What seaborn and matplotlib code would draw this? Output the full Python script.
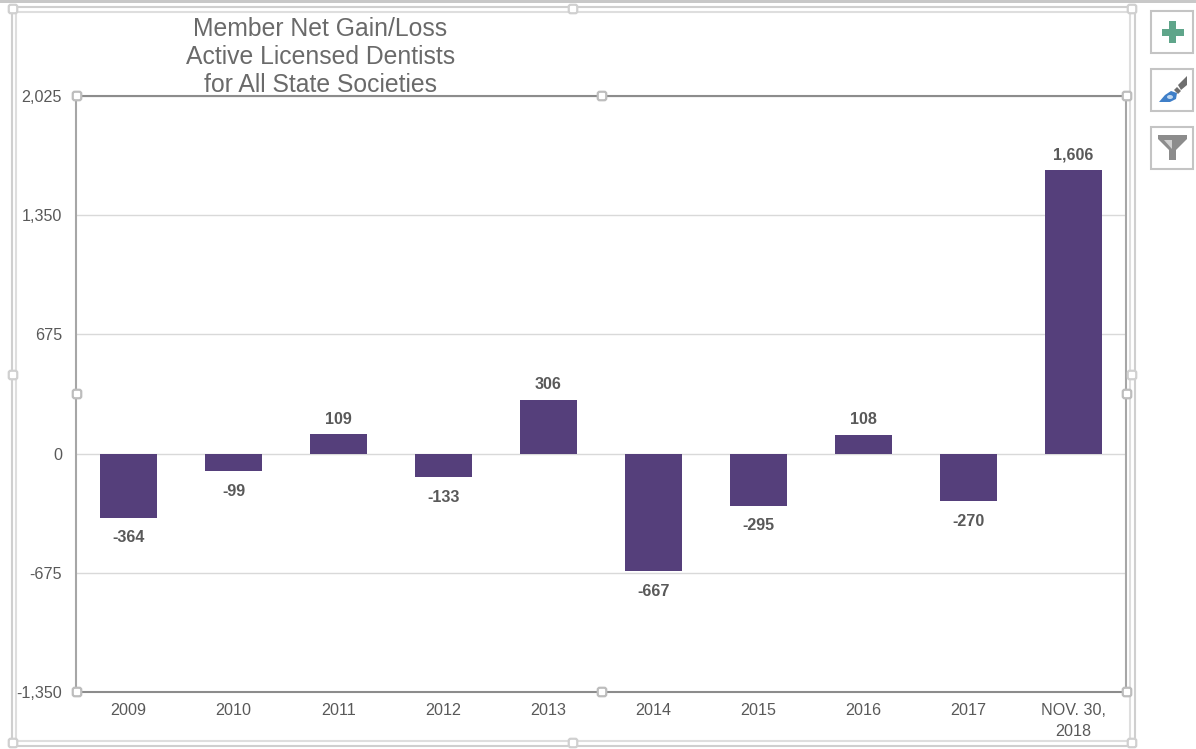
import pandas as pd
import seaborn as sns
import matplotlib.pyplot as plt
from matplotlib.patches import Rectangle, Polygon, Ellipse, FancyBboxPatch

# Chart data
years = ["2009", "2010", "2011", "2012", "2013", "2014", "2015", "2016", "2017", "NOV. 30,\n2018"]
net_change = [-364, -99, 109, -133, 306, -667, -295, 108, -270, 1606]
y_ticks = [-1350, -675, 0, 675, 1350, 2025]
title_lines = ["Member Net Gain/Loss", "Active Licensed Dentists", "for All State Societies"]

df = pd.DataFrame({"year": years, "net": net_change})

W, H = 1196, 749
BAR = "#553F7B"
TXT = "#595959"

sns.set_theme(style="white")
plt.rcParams["font.family"] = ["Liberation Sans", "DejaVu Sans"]

fig = plt.figure(figsize=(W / 100, H / 100), dpi=100, facecolor="white")

# plot area, placed from pixel edges
ax = fig.add_axes([76 / W, 1 - 692 / H, (1126 - 76) / W, (692 - 96) / H])
sns.barplot(data=df, x="year", y="net", color=BAR, saturation=1, width=0.545, ax=ax, zorder=3,
            linewidth=0)

ax.set_xlim(-0.5, len(years) - 0.5)
ax.set_ylim(y_ticks[0], y_ticks[-1])
ax.set_yticks(y_ticks)
ax.set_yticklabels([f"{v:,}" for v in y_ticks], fontsize=11.6, color=TXT)
ax.set_xlabel("")
ax.set_ylabel("")
ax.tick_params(axis="x", labelsize=11.6, labelcolor=TXT, length=0, pad=8)
ax.tick_params(axis="y", length=0, pad=10)
for lab in ax.get_xticklabels():
    lab.set_linespacing(1.45)
ax.yaxis.grid(True, color="#D9D9D9", lw=1)
ax.set_axisbelow(True)
ax.set_facecolor("white")
for side in ax.spines:
    ax.spines[side].set_color("#A6A6A6")
    ax.spines[side].set_linewidth(1.5)
ax.spines["top"].set_color("#8C8C8C")
ax.spines["bottom"].set_color("#8C8C8C")

# labels above and below the bars need a slightly different gap
bars = ax.containers[0]
pos_labels = [f"{v:,}" if v > 0 else "" for v in net_change]
neg_labels = [f"{v:,}" if v < 0 else "" for v in net_change]
ax.bar_label(bars, labels=pos_labels, padding=5.5, fontsize=11.6, fontweight="bold", color=TXT)
ax.bar_label(bars, labels=neg_labels, padding=9, fontsize=11.6, fontweight="bold", color=TXT)

# title sits over the chart, three separate lines
for line, py in zip(title_lines, [26, 54.5, 82.5]):
    fig.text(320.5 / W, 1 - py / H, line, ha="center", va="center_baseline", fontsize=17.8, color="#6A6A6A")

# Overlay in pixel coordinates for the selection frame and side buttons
ov = fig.add_axes([0, 0, 1, 1], zorder=5)
ov.set_xlim(0, W)
ov.set_ylim(H, 0)
ov.axis("off")
ov.patch.set_alpha(0)


def box(x0, y0, x1, y1, ec="#D4D4D4", lw=1.5, fc="none", z=2):
    ov.add_patch(Rectangle((x0, y0), x1 - x0, y1 - y0, fc=fc, ec=ec, lw=lw, zorder=z))


def handle(x, y, size=8, ec="#C8C8C8"):
    ov.add_patch(FancyBboxPatch((x - size / 2, y - size / 2), size, size, boxstyle="round,pad=0,rounding_size=2",
                                fc="white", ec=ec, lw=1.6, zorder=4))


# window shadow along the top
ov.add_patch(Rectangle((0, 0), W, 2.5, fc="#C8C8C8", ec="none"))

# double frame
box(11.5, 6.5, 1135, 745.5, ec="#CFCFCF")
box(16, 12, 1129.5, 740.5, ec="#DEDEDE")
for hx, hy in [(13, 9), (573, 9), (1132, 9), (13, 375), (1132, 375), (13, 743), (573, 743), (1132, 743)]:
    handle(hx, hy, size=8.5, ec="#D0D0D0")
for hx, hy in [(77, 96), (602, 96), (1127, 96), (77, 394), (1127, 394), (77, 692), (602, 692), (1127, 692)]:
    handle(hx, hy, size=8.5, ec="#BDBDBD")

# side buttons
for top in [10.5, 68.5, 127]:
    box(1151, top, 1193, top + 42, ec="#C4C4C4", lw=1.5, fc="white")

# plus button
ov.add_patch(Rectangle((1161.5, 28.5), 22, 7, fc="#5FA58A", ec="none", zorder=5))
ov.add_patch(Rectangle((1169, 21), 7, 22, fc="#5FA58A", ec="none", zorder=5))

# brush button
ov.add_patch(Polygon([(1159, 102), (1165, 95), (1171, 91), (1177, 93), (1176, 99), (1170, 102)],
                     fc="#3F7FC8", ec="none", zorder=5))
ov.add_patch(Ellipse((1170, 97), 6, 4, fc="#BFD7F0", ec="none", zorder=6))
ov.add_patch(Polygon([(1174, 90), (1177, 87), (1181, 91), (1178, 94)], fc="#6E6E6E", ec="none", zorder=5))
ov.add_patch(Polygon([(1178, 85), (1187, 76), (1187, 85), (1181, 90)], fc="#6E6E6E", ec="none", zorder=5))

# filter button
ov.add_patch(Polygon([(1158, 135), (1187, 135), (1187, 139), (1176, 150), (1176, 160), (1169, 160), (1169, 150), (1158, 139)],
                     fc="#8C8C8C", ec="none", zorder=5))
ov.add_patch(Polygon([(1164, 140), (1172, 140), (1172, 149)], fc="#CFCFCF", ec="none", zorder=6))

fig.savefig("out.png", dpi=100)
